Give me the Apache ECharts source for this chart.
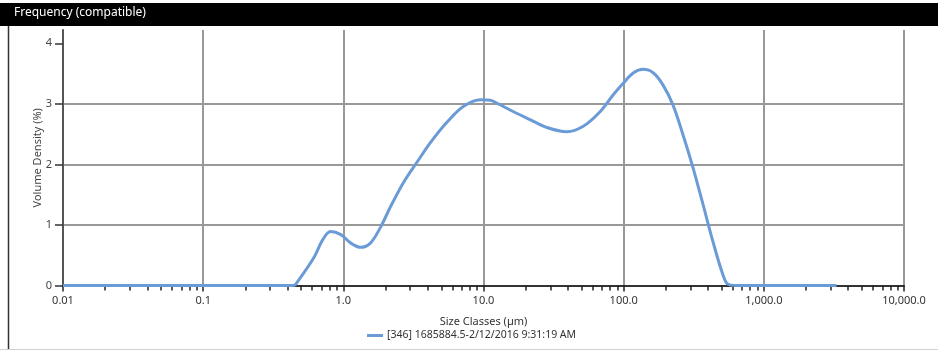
<!DOCTYPE html>
<html>
<head>
<meta charset="utf-8">
<script src="https://cdn.jsdelivr.net/npm/echarts@6/dist/echarts.min.js"></script>
<style>
html,body{margin:0;padding:0;background:#fff;}
#c{width:938px;height:351px;}
</style>
</head>
<body>
<div id="c"></div>
<script>
const chartTitle = 'Frequency (compatible)';
const seriesName = '[346] 1685884.5-2/12/2016 9:31:19 AM';
const xAxisName = 'Size Classes (µm)';
const yAxisName = 'Volume Density (%)';

const sizeClasses = [0.01, 0.40, 0.44, 0.48, 0.62, 0.71, 0.81, 0.96, 1.13, 1.33, 1.56, 1.84, 2.17, 2.70, 3.36, 4.18, 5.50, 7.21, 9.48, 11.2, 12.5, 16.4, 21.5, 28.3, 39.3, 51.5, 67.8, 84.3, 99.3, 117, 138, 163, 191, 225, 265, 313, 369, 434, 512, 555, 637, 3300];
const volumeDensity = [0, 0, 0, 0.09, 0.47, 0.75, 0.89, 0.84, 0.70, 0.63, 0.70, 0.96, 1.30, 1.71, 2.04, 2.36, 2.70, 2.96, 3.07, 3.06, 3.01, 2.87, 2.74, 2.61, 2.54, 2.63, 2.87, 3.15, 3.34, 3.51, 3.57, 3.51, 3.31, 2.98, 2.49, 1.94, 1.33, 0.72, 0.17, 0.02, 0, 0];

const xTickValues = [0.01, 0.1, 1, 10, 100, 1000, 10000];
const xTickLabels = ['0.01', '0.1', '1.0', '10.0', '100.0', '1,000.0', '10,000.0'];
const yTickValues = [0, 1, 2, 3, 4];
const yTickLabels = ['0', '1', '2', '3', '4'];

const minorTicks = [];
for (let d = 0; d < xTickValues.length - 1; d++) {
  for (let m = 2; m <= 9; m++) minorTicks.push(+(xTickValues[d] * m).toPrecision(6));
}

const FONT = '"Noto Sans", "Open Sans", sans-serif';
const chart = echarts.init(document.getElementById('c'), null, {renderer: 'canvas'});
chart.setOption({
  animation: false,
  backgroundColor: '#ffffff',
  textStyle: {fontFamily: FONT},
  graphic: [
    {type: 'rect', shape: {x: 0, y: 3, width: 938, height: 23}, style: {fill: '#000'}, z: 10},
    {type: 'text', left: 14, top: 7, style: {text: chartTitle, fill: '#fff', font: '12px ' + FONT}, z: 11},
    {type: 'line', shape: {x1: 8.5, y1: 26, x2: 8.5, y2: 349}, style: {stroke: '#333', lineWidth: 1.5}, z: 10},
    {type: 'line', shape: {x1: 0, y1: 349.5, x2: 938, y2: 349.5}, style: {stroke: '#d0d0d0', lineWidth: 1}, z: 10}
  ],
  grid: {left: 63, right: 34, top: 30, bottom: 65.5, containLabel: false},
  legend: {
    left: 362, top: 325,
    icon: 'rect', itemWidth: 16, itemHeight: 3, itemGap: 4,
    textStyle: {fontSize: 10.5, color: '#333', fontFamily: FONT, padding: [0, 0, 0, -1]},
    data: [seriesName]
  },
  xAxis: [{
    type: 'log', logBase: 10, min: 0.01, max: 10000, position: 'bottom',
    name: xAxisName, nameLocation: 'middle', nameGap: 31, nameMoveOverlap: false,
    nameTextStyle: {fontSize: 11, color: '#333', fontFamily: FONT},
    axisLine: {show: true, onZero: false, lineStyle: {color: '#333', width: 2}},
    axisTick: {show: true, inside: false, length: 6, lineStyle: {color: '#222', width: 1.5}},
    axisLabel: {
      fontSize: 11, color: '#333', margin: 10, fontFamily: FONT,
      formatter: function (v) {
        const i = Math.round(Math.log10(v)) + 2;
        return xTickLabels[i] !== undefined ? xTickLabels[i] : '';
      }
    },
    splitLine: {show: true, showMinLine: false, lineStyle: {color: '#999', width: 2}},
    minorTick: {show: false}
  }, {
    type: 'log', logBase: 10, min: 0.01, max: 10000, position: 'bottom', offset: 0,
    axisLine: {show: false},
    axisTick: {show: true, inside: false, length: 5, customValues: minorTicks, lineStyle: {color: '#222', width: 1.5}},
    axisLabel: {show: false},
    splitLine: {show: false}
  }],
  yAxis: {
    type: 'value', min: 0, max: 4.22, interval: 1,
    name: yAxisName, nameLocation: 'middle', nameGap: 20, nameMoveOverlap: false,
    nameTextStyle: {fontSize: 11, color: '#444', fontFamily: FONT},
    axisLine: {show: true, lineStyle: {color: '#555', width: 2}},
    axisTick: {show: true, length: 8, customValues: yTickValues, lineStyle: {color: '#333', width: 1.5}},
    axisLabel: {
      fontSize: 11, color: '#444', margin: 11, fontFamily: FONT,
      customValues: yTickValues,
      formatter: function (v) {
        const i = yTickValues.indexOf(Math.round(v));
        return Math.abs(v - Math.round(v)) < 1e-6 && i >= 0 ? yTickLabels[i] : '';
      }
    },
    splitLine: {show: true, showMinLine: false, showMaxLine: false, lineStyle: {color: '#999', width: 2}}
  },
  series: [{
    name: seriesName,
    type: 'line',
    xAxisIndex: 0,
    data: sizeClasses.map((s, i) => [s, volumeDensity[i]]),
    smooth: 0.35,
    showSymbol: false,
    symbol: 'none',
    lineStyle: {color: '#6b9bd6', width: 3},
    itemStyle: {color: '#6b9bd6'},
    z: 5
  }]
});
</script>
</body>
</html>
